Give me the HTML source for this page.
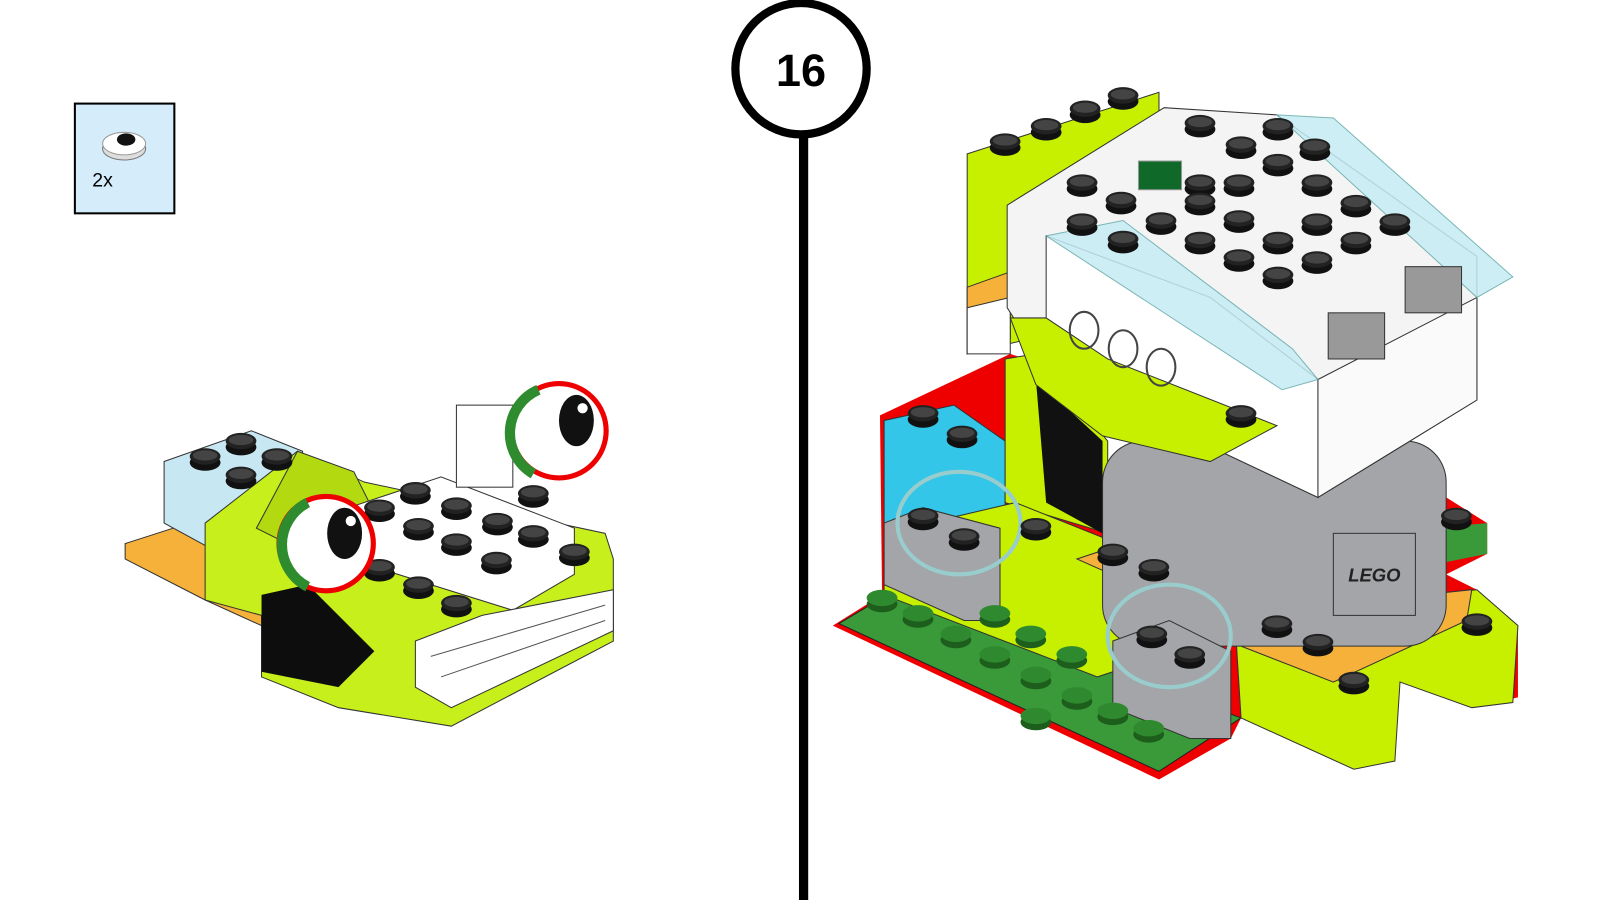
<!DOCTYPE html>
<html><head><meta charset="utf-8"><style>
html,body{margin:0;padding:0;background:#fff;}
body{width:1600px;height:900px;position:relative;overflow:hidden;font-family:"Liberation Sans",sans-serif;}
</style></head><body>
<svg width="1600" height="900" viewBox="0 0 1560 877.5" xmlns="http://www.w3.org/2000/svg" style="position:absolute;left:0;top:0">
<defs>
<g id="st"><ellipse cx="0" cy="4" rx="15" ry="8" fill="#111"/><ellipse cx="0" cy="-2" rx="15" ry="8" fill="#222"/><ellipse cx="0" cy="-3" rx="12" ry="5" fill="#444"/></g>
<g id="sg"><ellipse cx="0" cy="4" rx="15" ry="8" fill="#1d5e1d"/><ellipse cx="0" cy="-2" rx="15" ry="8" fill="#2f8a2f"/></g>
</defs>
<!-- parts box -->
<rect x="73" y="101" width="97" height="107" fill="#d5edfb" stroke="#000" stroke-width="2"/>
<ellipse cx="121" cy="145" rx="21" ry="11" fill="#ddd" stroke="#777"/>
<ellipse cx="121" cy="140" rx="21" ry="11" fill="#fff" stroke="#999"/>
<ellipse cx="123" cy="136" rx="9" ry="6" fill="#111"/>
<text x="90" y="182" font-size="19" fill="#000">2x</text>
<!-- step number -->
<circle cx="781" cy="67" r="64" fill="#fff" stroke="#000" stroke-width="8"/>
<text x="781" y="84" font-size="44" font-weight="bold" text-anchor="middle" fill="#000">16</text>
<rect x="779" y="128" width="9" height="750" fill="#000"/>

<!-- LEFT MODEL -->
<polygon points="122,530 200,505 255,560 255,610 200,585 122,545" fill="#f6b13a" stroke="#333"/>
<polygon points="160,450 245,420 295,440 295,510 215,540 160,510" fill="#c7e8f2" stroke="#333"/>
<polygon points="200,510 290,440 355,470 590,520 598,545 598,625 440,708 330,690 255,660 255,600 200,585" fill="#c6ef1b" stroke="#333"/>
<polygon points="290,440 345,460 370,510 300,540 250,515" fill="#b3da10" stroke="#333"/>
<polygon points="340,495 430,465 560,515 560,560 500,595 340,545" fill="#fff" stroke="#333"/>
<polygon points="255,580 300,570 365,635 330,670 255,655" fill="#0d0d0d"/>
<polygon points="405,625 470,600 598,575 598,615 440,690 405,670" fill="#fff" stroke="#333"/>
<g fill="none" stroke="#555"><path d="M420,640 L590,590 M430,660 L590,605"/></g>
<rect x="445" y="395" width="55" height="80" fill="#fff" stroke="#333"/>
<use href="#st" x="235" y="432"/><use href="#st" x="270" y="447"/><use href="#st" x="200" y="447"/><use href="#st" x="235" y="465"/>
<use href="#st" x="405" y="480"/><use href="#st" x="445" y="495"/><use href="#st" x="485" y="510"/><use href="#st" x="520" y="522"/>
<use href="#st" x="370" y="497"/><use href="#st" x="408" y="515"/><use href="#st" x="445" y="530"/><use href="#st" x="484" y="548"/>
<use href="#st" x="520" y="483"/><use href="#st" x="560" y="540"/><use href="#st" x="370" y="555"/><use href="#st" x="408" y="572"/><use href="#st" x="445" y="590"/>
<circle cx="318" cy="530" r="46" fill="#fff" stroke="#e00" stroke-width="5"/>
<path d="M300,490 A46,46 0 0 0 300,572" fill="none" stroke="#2e8b2e" stroke-width="10"/>
<ellipse cx="336" cy="520" rx="17" ry="25" fill="#111"/><circle cx="342" cy="508" r="5" fill="#fff"/>
<circle cx="545" cy="420" r="46" fill="#fff" stroke="#e00" stroke-width="5"/>
<path d="M525,380 A46,46 0 0 0 520,462" fill="none" stroke="#2e8b2e" stroke-width="10"/>
<ellipse cx="562" cy="410" rx="17" ry="25" fill="#111"/><circle cx="568" cy="398" r="5" fill="#fff"/>

<!-- RIGHT MODEL -->
<polygon points="858,405 985,345 1030,360 1030,430 1190,500 1410,485 1450,510 1450,540 1410,560 1440,575 1480,610 1480,680 1435,690 1360,660 1360,740 1320,750 1210,700 1200,720 1130,760 812,610 860,580" fill="#e00"/>
<polygon points="943,150 1130,90 1130,300 943,345" fill="#c6f000" stroke="#333"/>
<polygon points="943,280 985,265 985,330 943,345" fill="#f6b13a" stroke="#333"/>
<polygon points="943,300 985,290 985,345 943,345" fill="#fff" stroke="#333"/>
<polygon points="865,580 880,575 1210,700 1130,752 818,608" fill="#3a9a3a" stroke="#222"/>
<polygon points="862,410 930,395 980,430 980,500 862,520" fill="#33c6e8" stroke="#333"/>
<polygon points="980,350 1010,345 1080,430 1080,520 980,490" fill="#c6f000" stroke="#333"/>
<polygon points="1010,370 1075,430 1075,520 1020,490" fill="#111"/>
<polygon points="862,520 990,490 1190,570 1190,620 1070,660 862,580" fill="#c6f000" stroke="#333"/>
<polygon points="1205,620 1300,590 1440,575 1480,610 1475,685 1435,690 1365,665 1360,742 1320,750 1210,700" fill="#c6f000" stroke="#333"/>
<polygon points="1050,545 1110,525 1190,560 1140,585" fill="#f6b13a" stroke="#333"/>
<polygon points="1210,615 1290,590 1435,575 1430,605 1300,665 1210,630" fill="#f6b13a" stroke="#333"/>
<polygon points="1395,515 1450,510 1450,540 1400,550" fill="#3a9a3a"/>
<rect x="1075" y="430" width="335" height="200" rx="40" fill="#a3a5a8" stroke="#333"/>
<rect x="1300" y="520" width="80" height="80" fill="#a3a5a8" stroke="#333"/>
<text x="1340" y="567" font-size="18" font-style="italic" font-weight="bold" fill="#222" text-anchor="middle">LEGO</text>
<polygon points="862,510 900,495 975,515 975,605 940,605 862,570" fill="#a3a5a8" stroke="#333"/>
<polygon points="1085,625 1140,605 1200,635 1200,720 1160,720 1085,690" fill="#a3a5a8" stroke="#333"/>
<ellipse cx="935" cy="510" rx="60" ry="50" fill="none" stroke="#9cc" stroke-width="4"/>
<ellipse cx="1140" cy="620" rx="60" ry="50" fill="none" stroke="#9cc" stroke-width="4"/>
<polygon points="982,200 1135,105 1245,112 1440,250 1440,390 1285,485 1020,360 982,300" fill="#f4f4f4" stroke="#333"/>
<polygon points="1020,230 1180,290 1285,370 1285,485 1020,360" fill="#fff" stroke="#333"/>
<polygon points="1285,370 1440,290 1440,390 1285,485" fill="#fafafa" stroke="#333"/>
<polygon points="1020,230 1095,215 1260,340 1285,370 1250,380" fill="#c6ecf4" stroke="#6aa" opacity="0.85"/>
<polygon points="1245,112 1300,115 1475,270 1440,290" fill="#c6ecf4" stroke="#6aa" opacity="0.85"/>
<polygon points="985,310 1020,310 1080,350 1245,415 1180,450 1075,425 1010,375" fill="#c6f000" stroke="#333"/>
<rect x="1110" y="157" width="42" height="28" fill="#0f6a2a" stroke="#999"/>
<g fill="#999" stroke="#333"><rect x="1295" y="305" width="55" height="45"/><rect x="1370" y="260" width="55" height="45"/></g>
<g fill="none" stroke="#444" stroke-width="2"><ellipse cx="1057" cy="322" rx="14" ry="18"/><ellipse cx="1095" cy="340" rx="14" ry="18"/><ellipse cx="1132" cy="358" rx="14" ry="18"/></g>
<use href="#st" x="980" y="140"/><use href="#st" x="1020" y="125"/><use href="#st" x="1058" y="108"/><use href="#st" x="1095" y="95"/>
<use href="#st" x="1170" y="122"/><use href="#st" x="1210" y="143"/><use href="#st" x="1246" y="125"/><use href="#st" x="1282" y="145"/>
<use href="#st" x="1055" y="180"/><use href="#st" x="1093" y="197"/><use href="#st" x="1170" y="180"/><use href="#st" x="1208" y="180"/><use href="#st" x="1246" y="160"/><use href="#st" x="1284" y="180"/>
<use href="#st" x="1055" y="218"/><use href="#st" x="1132" y="217"/><use href="#st" x="1170" y="236"/><use href="#st" x="1208" y="215"/><use href="#st" x="1246" y="236"/><use href="#st" x="1284" y="218"/><use href="#st" x="1322" y="200"/><use href="#st" x="1360" y="218"/>
<use href="#st" x="1095" y="235"/><use href="#st" x="1170" y="198"/><use href="#st" x="1208" y="253"/><use href="#st" x="1246" y="270"/><use href="#st" x="1284" y="255"/><use href="#st" x="1322" y="236"/>
<use href="#st" x="1210" y="405"/><use href="#st" x="900" y="405"/><use href="#st" x="938" y="425"/>
<use href="#st" x="900" y="505"/><use href="#st" x="940" y="525"/><use href="#st" x="1123" y="620"/><use href="#st" x="1160" y="640"/>
<use href="#st" x="1010" y="515"/><use href="#st" x="1085" y="540"/><use href="#st" x="1125" y="555"/><use href="#st" x="1245" y="610"/><use href="#st" x="1285" y="628"/><use href="#st" x="1440" y="608"/><use href="#st" x="1320" y="665"/><use href="#st" x="1420" y="505"/>
<use href="#sg" x="860" y="585"/><use href="#sg" x="895" y="600"/><use href="#sg" x="932" y="620"/><use href="#sg" x="970" y="600"/><use href="#sg" x="1005" y="620"/><use href="#sg" x="970" y="640"/><use href="#sg" x="1010" y="660"/><use href="#sg" x="1045" y="640"/><use href="#sg" x="1050" y="680"/><use href="#sg" x="1085" y="695"/><use href="#sg" x="1120" y="712"/><use href="#sg" x="1010" y="700"/>
</svg>
</body></html>
